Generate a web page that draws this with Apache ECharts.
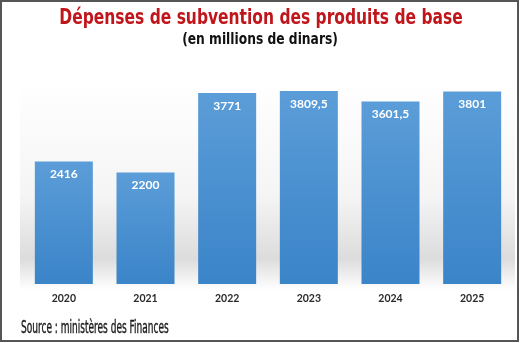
<!DOCTYPE html>
<html><head><meta charset="utf-8">
<script src="https://cdn.jsdelivr.net/npm/echarts@6/dist/echarts.min.js"></script>
<style>html,body{margin:0;padding:0;background:#fff}#c{width:520px;height:343px;box-sizing:border-box}</style>
</head><body><div id="c"></div>
<script>
var categories = ['2020','2021','2022','2023','2024','2025'];
var values = [2416, 2200, 3771, 3809.5, 3601.5, 3801];
var valueLabels = ['2416','2200','3771','3809,5','3601,5','3801'];
var titleText = 'Dépenses de subvention des produits de base';
var subtitleText = '(en millions de dinars)';
var sourceText = 'Source : ministères des Finances';

var chart = echarts.init(document.getElementById('c'), null, {renderer:'canvas'});
chart.setOption({
  backgroundColor: '#ffffff',
  animation: false,
  graphic: [{
    type:'rect', shape:{x:1,y:1,width:517,height:340},
    style:{fill:'none', stroke:'#555', lineWidth:2}, z:100
  },{
    type:'rect', shape:{x:20,y:80,width:495,height:210},
    style:{fill:{type:'linear',x:0,y:0,x2:0,y2:1,colorStops:[
      {offset:0,color:'#ffffff'},{offset:0.55,color:'#f5f5f5'},{offset:0.85,color:'#dcdcdc'},{offset:1,color:'#ffffff'}]}},
    z:-10, silent:true
  },{
    type:'text', x: 261, y: 19, scaleX: 0.82, z: 10,
    style:{text: titleText, fill:'#c0161b', font:'bold 21px "DejaVu Sans Condensed", sans-serif',
      textAlign:'center', textVerticalAlign:'middle'}
  },{
    type:'text', x: 260, y: 40.5, scaleX: 0.91, z: 10,
    style:{text: subtitleText, fill:'#111', font:'bold 15px "DejaVu Sans Condensed", sans-serif',
      textAlign:'center', textVerticalAlign:'middle'}
  },{
    type:'text', x: 21, y: 328.5, scaleX: 0.59, z: 10,
    style:{text: sourceText, fill:'#1a1a1a', font:'17px "DejaVu Sans Condensed", sans-serif',
      textAlign:'left', textVerticalAlign:'middle', stroke:'#1a1a1a', lineWidth:0.4}
  }],
  grid: {left: 23, right: 7, top: 56, bottom: 59},
  xAxis: {
    type:'category', data: categories,
    axisLine:{show:false}, axisTick:{show:false},
    axisLabel:{color:'#2a2a2a', fontSize:10.5, fontWeight:'bold', fontFamily:'Lato', margin:9}
  },
  yAxis: {type:'value', min:0, max:4500, show:false, splitLine:{show:false}},
  series: [{
    type:'bar', data: values, barWidth: 58,
    itemStyle:{color:{type:'linear',x:0,y:0,x2:0,y2:1,colorStops:[
      {offset:0,color:'#5b9dd8'},{offset:1,color:'#3a84c8'}]}},
    label:{show:true, position:'insideTop', distance:7, color:'#fff', fontSize:12, fontWeight:'bold',
      fontFamily:'Lato',
      formatter: function(p){ return valueLabels[p.dataIndex]; }}
  }]
});
</script></body></html>
